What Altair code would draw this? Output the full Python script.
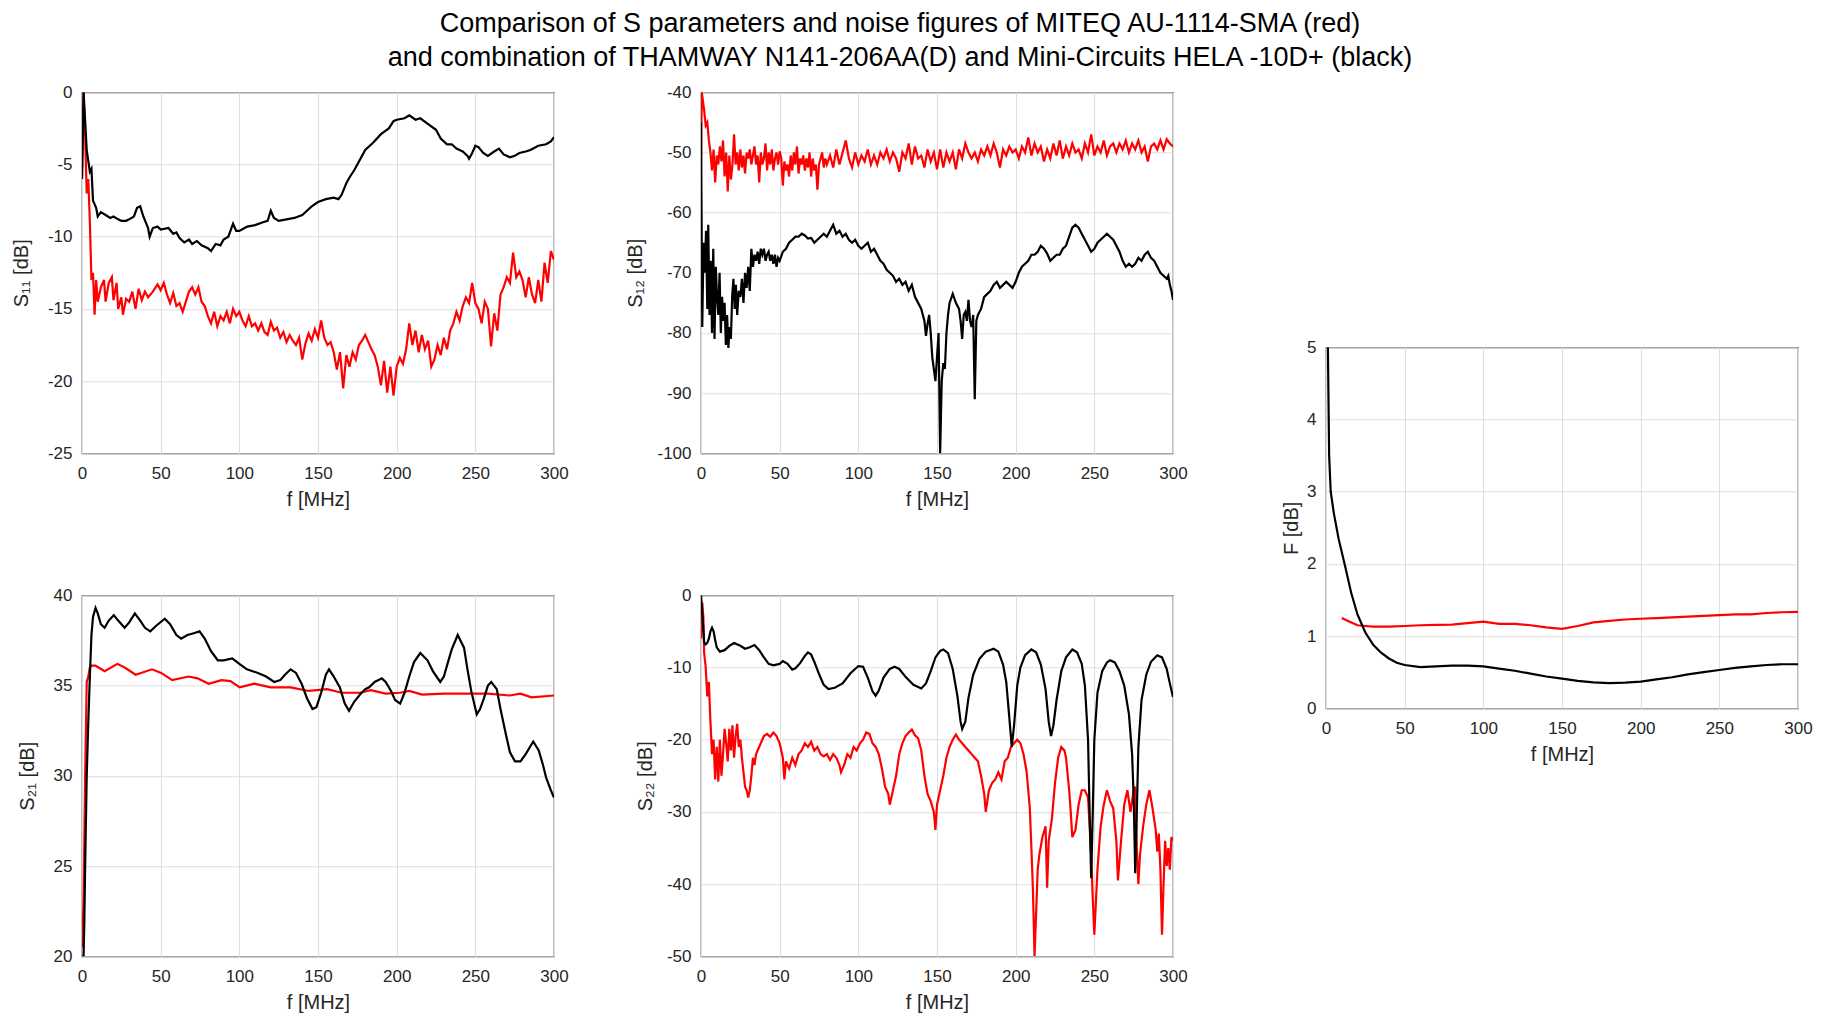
import altair as alt
import pandas as pd

# ---------------- data ----------------
X_TICKS = [0, 50, 100, 150, 200, 250, 300]

# S11 black
S11_BLACK_F = [0, 1, 2, 3, 5, 6, 7, 9, 10, 12, 15, 18, 20, 23, 25, 28, 30, 33, 35, 37, 39, 42, 43, 45, 48, 50,
               55, 58, 60, 62, 65, 68, 70, 73, 76, 80, 82, 85, 88, 90, 93, 96, 98, 100, 105, 110, 115, 118, 120,
               122, 125, 130, 135, 140, 143, 146, 150, 155, 160, 163, 165, 168, 170, 173, 175, 180, 185, 190,
               195, 198, 200, 205, 208, 212, 215, 220, 225, 228, 232, 235, 238, 242, 245, 246, 248, 250, 252,
               255, 258, 262, 265, 268, 272, 275, 278, 282, 285, 290, 295, 298, 300]
S11_BLACK_DB = [-6, 0, -2, -4, -5.5, -5.3, -7.5, -8.0, -8.6, -8.3, -8.5, -8.7, -8.6, -8.8, -8.9, -8.9, -8.8,
                -8.6, -8.0, -7.9, -8.6, -9.4, -10.0, -9.4, -9.3, -9.5, -9.4, -9.8, -9.7, -10.1, -10.4, -10.2,
                -10.5, -10.3, -10.6, -10.8, -11.0, -10.5, -10.6, -10.2, -10.0, -9.1, -9.6, -9.6, -9.3, -9.2,
                -9.0, -8.9, -8.2, -8.7, -8.9, -8.8, -8.7, -8.5, -8.2, -7.9, -7.6, -7.4, -7.3, -7.4, -7.1, -6.3,
                -5.9, -5.4, -5.0, -4.0, -3.5, -2.9, -2.5, -2.0, -1.9, -1.8, -1.6, -1.9, -1.8, -2.2, -2.6, -3.2,
                -3.6, -3.6, -3.9, -4.1, -4.4, -4.6, -4.2, -3.7, -3.8, -4.2, -4.4, -4.1, -3.9, -4.3, -4.5, -4.4,
                -4.2, -4.1, -4.0, -3.7, -3.6, -3.4, -3.1]

# S11 red
S11_RED_F = [0, 1, 2, 3, 4, 5, 6, 7, 8, 9, 10, 12, 14, 15, 17, 19, 20, 22, 23, 25, 26, 28, 30, 32, 34, 36, 38,
             40, 42, 45, 48, 50, 52, 54, 56, 58, 60, 62, 64, 66, 68, 70, 72, 74, 76, 78, 80, 82, 84, 86, 88, 90,
             92, 94, 96, 98, 100, 102, 104, 106, 108, 110, 112, 114, 116, 118, 120, 122, 124, 126, 128, 130,
             132, 134, 136, 138, 140, 142, 144, 146, 148, 150, 152, 154, 156, 158, 160, 162, 164, 166, 168,
             170, 172, 174, 176, 178, 180, 182, 184, 186, 188, 190, 192, 194, 196, 198, 200, 202, 204, 206,
             208, 210, 212, 214, 216, 218, 220, 222, 224, 226, 228, 230, 232, 234, 236, 238, 240, 242, 244,
             246, 248, 250, 252, 254, 256, 258, 260, 262, 264, 266, 268, 270, 272, 274, 276, 278, 280, 282,
             284, 286, 288, 290, 292, 294, 296, 298, 300]
S11_RED_DB = [-6, 0, -3, -7, -6, -9, -13, -12.5, -15.4, -13.0, -14.5, -13.5, -13.0, -14.5, -13.2, -12.8, -14.4,
              -13.2, -15.0, -14.2, -15.4, -14.3, -14.5, -13.8, -15.0, -13.6, -14.4, -13.8, -14.2, -13.8, -13.3,
              -13.7, -13.2, -14.0, -14.6, -13.9, -14.8, -14.6, -15.2, -14.5, -13.8, -13.5, -14.0, -13.5, -14.5,
              -14.8, -15.5, -16.0, -15.2, -16.2, -15.5, -15.8, -15.2, -16.0, -15.0, -15.5, -15.2, -15.8, -16.2,
              -15.5, -16.2, -16.0, -16.5, -16.0, -16.6, -16.8, -15.9, -16.5, -16.3, -17.0, -16.6, -17.3, -16.8,
              -17.2, -17.5, -17.0, -18.5, -17.4, -16.7, -17.2, -16.4, -17.0, -15.8, -17.0, -17.5, -17.3, -18.0,
              -19.2, -18.0, -20.5, -18.2, -19.0, -18.0, -18.5, -17.5, -17.2, -16.8, -17.3, -17.8, -18.2, -19.0,
              -20.3, -18.6, -20.8, -19.0, -21.0, -19.0, -18.4, -18.8, -17.8, -16.0, -17.5, -16.5, -18.0, -16.8,
              -17.8, -17.2, -19.0, -18.5, -17.5, -18.2, -17.0, -17.8, -16.5, -16.0, -15.2, -15.8, -14.8, -14.2,
              -14.6, -13.2, -14.6, -15.0, -16.0, -14.5, -15.0, -17.6, -15.3, -16.5, -14.0, -13.5, -12.8, -13.2,
              -11.1, -12.8, -12.4, -13.0, -14.2, -12.8, -14.0, -14.6, -13.0, -14.5, -11.8, -13.2, -11.0, -11.6]

# S12 red
S12_RED_F = [0, 0.5, 1, 2, 3, 4, 5, 6, 7, 8, 9, 10, 11, 12, 13, 14, 15, 16, 17, 18, 19, 20, 21, 22, 23, 24, 25,
             26, 27, 28, 29, 30, 31, 32, 33, 34, 35, 36, 37, 38, 39, 40, 41, 42, 43, 44, 45, 46, 47, 48, 49, 50,
             51, 52, 53, 54, 55, 56, 57, 58, 59, 60, 61, 62, 63, 64, 65, 66, 67, 68, 69, 70, 71, 72, 73, 74, 75,
             76, 77, 78, 79, 80, 82, 84, 86, 88, 90, 92, 94, 96, 98, 100, 102, 104, 106, 108, 110, 112, 114,
             116, 118, 120, 122, 124, 126, 128, 130, 132, 134, 136, 138, 140, 142, 144, 146, 148, 150, 152,
             154, 156, 158, 160, 162, 164, 166, 168, 170, 172, 174, 176, 178, 180, 182, 184, 186, 188, 190,
             192, 194, 196, 198, 200, 202, 204, 206, 208, 210, 212, 214, 216, 218, 220, 222, 224, 226, 228,
             230, 232, 234, 236, 238, 240, 242, 244, 246, 248, 250, 252, 254, 256, 258, 260, 262, 264, 266,
             268, 270, 272, 274, 276, 278, 280, 282, 284, 286, 288, 290, 292, 294, 296, 298, 300]
S12_RED_DB = [-52, -40, -41, -43, -45.5, -45, -48, -50, -53, -49.5, -55, -50.5, -52, -49, -51.5, -48, -54, -50,
              -56.5, -50.5, -54.5, -52, -47, -52, -50, -53, -49.5, -52.5, -50.5, -53.5, -50, -51, -49.5, -52,
              -50.5, -49, -52, -50.5, -55, -50, -52, -51, -48.5, -53, -50, -52, -49.5, -53, -51, -50, -52, -49.8,
              -51, -55.5, -51.5, -53, -52, -54, -50.5, -53, -50, -52, -49, -53.5, -51, -52, -50.5, -53, -51,
              -52.5, -50, -54, -51, -53, -52, -56.2, -52, -51, -50, -52.5, -51, -52, -50.5, -52.5, -49.5, -52,
              -50, -48, -51, -52.5, -50, -52, -50.5, -51.5, -49.5, -52, -50.5, -52, -50, -51, -49.5, -51.5, -50,
              -51, -53.2, -50, -51, -48.5, -52, -49, -51, -50.5, -52.5, -49.5, -51.5, -50, -52.8, -49.5, -52.5,
              -50, -51.5, -50, -52.8, -49.5, -51, -48.5, -50, -51, -50, -51.5, -49.5, -50.5, -49, -50.5, -48.5,
              -50, -52.5, -49.5, -50.5, -49, -50, -49.5, -51, -49, -50, -47.5, -50.5, -48.5, -50, -49, -51.5,
              -49.5, -51, -48.5, -50.5, -48, -51, -49, -50.5, -48.5, -50, -49.5, -51, -48.5, -50, -47.0, -50.5,
              -49, -50, -48, -50.5, -49, -48.5, -50, -48.5, -49.5, -48, -50, -48.5, -49.5, -48, -50, -49, -51.5,
              -49, -48.5, -49.5, -48, -49.5, -47.8, -48.5, -49]

# S12 black
S12_BLACK_F = [0, 0.8, 1.6, 2.4, 3.2, 4.0, 4.6, 5.4, 6.2, 7, 7.8, 8.6, 9.4, 10.2, 11, 11.8, 12.6, 13.4, 14.2, 15,
               15.8, 16.6, 17.4, 18.2, 19, 19.8, 20.6, 21.4, 22.2, 23, 24, 25, 26, 27, 28, 29, 30, 31, 32, 33,
               34, 35, 36, 37, 38, 39, 40, 41, 42, 43, 44, 45, 46, 47, 48, 49, 50, 52, 54, 56, 58, 60, 62, 64,
               66, 68, 70, 72, 74, 76, 78, 80, 82, 84, 86, 88, 90, 92, 94, 96, 98, 100, 102, 104, 106, 108, 110,
               112, 114, 116, 118, 120, 122, 124, 126, 128, 130, 132, 134, 136, 138, 140, 142, 143, 144, 145,
               146, 147, 148, 149, 150, 151, 152, 153, 154, 155, 156, 157, 158, 160, 162, 164, 165, 166, 167,
               168, 169, 170, 171, 172, 173, 174, 175, 176, 178, 180, 182, 184, 186, 188, 190, 192, 194, 196,
               198, 200, 202, 204, 206, 208, 210, 212, 214, 216, 218, 220, 222, 224, 226, 228, 230, 232, 234,
               236, 238, 240, 242, 244, 246, 248, 250, 252, 254, 256, 258, 260, 262, 264, 266, 268, 270, 272,
               274, 276, 278, 280, 282, 284, 286, 288, 290, 292, 294, 296, 297, 298, 299, 300]
S12_BLACK_DB = [-45, -79, -65, -70, -63, -76, -62, -77, -68, -80, -66, -81, -69, -74, -77, -70, -80, -74, -78,
                -75, -82, -77, -82.5, -79, -81, -74, -71, -76, -72, -77, -73, -74, -71, -75, -70, -72.5, -69,
                -73, -66, -69, -67, -68, -66.5, -68.5, -66, -67, -66, -68, -67, -66.5, -68, -67, -68.5, -67,
                -69, -67.5, -68, -66.5, -66, -65, -64.5, -64, -64, -63.5, -63.8, -64.3, -64.2, -65, -64.5,
                -64, -63.5, -64, -63, -62, -63.5, -63, -64, -63.5, -64.5, -65, -64.5, -65.5, -66, -65.5, -65,
                -66.5, -66, -67, -68, -68.5, -69.5, -70, -70.5, -71.5, -71, -72, -71.5, -73, -72, -74, -75,
                -76, -78, -80.5, -78.5, -77, -80, -84, -86, -88, -84, -80, -100, -88, -85, -86, -80, -77, -75,
                -73.5, -75, -76, -78, -81, -77, -76.5, -78, -74.5, -78, -79, -77, -91, -78, -77, -76, -74,
                -73.5, -73, -72, -71.5, -72.5, -72, -71.5, -72, -72.5, -71.5, -70, -69, -68.5, -68, -67, -67,
                -66.5, -65.5, -66, -66.8, -68, -67.5, -67, -67, -66, -65.5, -64, -62.5, -62, -62.5, -63.5,
                -64.5, -65.5, -66.5, -66, -65, -64.5, -64, -63.5, -64, -64.5, -65.5, -66.5, -68, -69, -68.5,
                -69, -68.5, -67.5, -68, -67, -66.5, -67.5, -68, -69, -70, -70.5, -71, -70.5, -72, -73, -74.5]

# S21 black
S21_BLACK_F = [0, 1, 1.5, 2, 3, 4, 5, 6, 7, 8.6, 10, 12, 14.4, 17, 20.2, 23, 27.1, 30, 33.6, 37, 40, 43.4, 47,
               52.6, 56, 60, 63, 67, 71, 74.7, 78, 82, 86.3, 90, 95.5, 100, 104.8, 111.8, 117, 122.2, 126, 129,
               132.6, 136, 139.6, 143, 146.5, 149, 152, 155, 157, 160, 163.9, 167, 169.7, 173, 176.7, 180,
               182.5, 186, 190.6, 193, 196.4, 199, 202.2, 205, 208, 211, 215, 219.6, 223, 227.7, 230, 232.3,
               235, 238.8, 242.8, 245, 247.4, 250.9, 253, 255.5, 258, 260.1, 263.6, 266, 269.4, 272, 275.2,
               278.7, 282, 286.8, 290.3, 293, 295, 298, 300]
S21_BLACK_DB = [20, 20, 22, 25, 30, 33, 35.5, 37.8, 38.8, 39.3, 39.0, 38.4, 38.2, 38.6, 38.9, 38.6, 38.2, 38.5,
                39.0, 38.6, 38.2, 38.0, 38.3, 38.7, 38.4, 37.8, 37.6, 37.8, 37.9, 38.0, 37.6, 36.9, 36.4, 36.4,
                36.5, 36.2, 35.9, 35.7, 35.5, 35.2, 35.3, 35.6, 35.9, 35.7, 35.1, 34.3, 33.7, 33.8, 34.6, 35.6,
                35.9, 35.5, 34.9, 34.0, 33.6, 34.1, 34.5, 34.8, 34.9, 35.2, 35.4, 35.2, 34.7, 34.2, 34.0, 34.6,
                35.5, 36.3, 36.8, 36.4, 35.8, 35.2, 35.5, 36.2, 37.0, 37.8, 37.1, 35.9, 34.7, 33.4, 33.7, 34.3,
                35.0, 35.2, 34.8, 33.7, 32.3, 31.3, 30.8, 30.8, 31.2, 31.9, 31.4, 30.6, 29.9, 29.2, 28.8]

# S21 red
S21_RED_F = [0, 1, 2, 3, 4, 5, 6, 8.6, 14.4, 22.5, 27.1, 34.1, 44.5, 50.3, 57.3, 67.7, 73.5, 80.5, 88.6, 94.4,
             100.2, 109.5, 119.9, 132.6, 144.2, 155.8, 165, 176.7, 183.6, 192.9, 202.2, 208, 216.2, 230,
             246.3, 257.9, 271.8, 278.7, 285.7, 300]
S21_RED_DB = [20.5, 23, 30, 35.2, 35.5, 36.0, 36.1, 36.1, 35.8, 36.2, 36.0, 35.6, 35.9, 35.7, 35.3, 35.5, 35.4,
              35.1, 35.3, 35.25, 34.9, 35.1, 34.9, 34.9, 34.7, 34.8, 34.6, 34.6, 34.75, 34.55, 34.6, 34.7,
              34.5, 34.55, 34.55, 34.55, 34.45, 34.55, 34.35, 34.45]

# S22 black
S22_BLACK_F = [0, 1, 2, 3, 4, 5, 6, 7, 8, 9, 10, 12, 15, 18, 21, 25, 28, 31, 34, 37, 40, 43, 46, 50, 52, 55, 58,
               60, 63, 66, 68, 70, 72, 75, 78, 81, 85, 90, 95, 100, 103, 106, 109, 111, 113, 116, 120, 123, 126,
               130, 135, 140, 143, 146, 149, 152, 154, 157, 160, 163, 165, 166, 168, 170, 173, 177, 181, 186,
               189, 192, 194, 196, 197.5, 199, 201, 203, 206, 210, 213, 216, 219, 221, 222.5, 224, 226, 229,
               232, 236, 239, 242, 244, 246, 247, 248, 249, 250, 252, 255, 258, 260, 263, 266, 269, 272, 274,
               275, 276, 277, 278, 280, 283, 286, 290, 293, 296, 298, 300]
S22_BLACK_DB = [0, -3, -6.5, -6.8, -6.6, -6.0, -5.0, -4.5, -5.0, -6.2, -7.2, -7.8, -7.6, -7.0, -6.6, -7.0, -7.4,
                -7.2, -6.9, -7.6, -8.6, -9.5, -9.7, -9.5, -9.1, -9.5, -10.3, -10.1, -9.4, -8.4, -7.9, -8.2,
                -9.2, -10.9, -12.4, -13.0, -12.8, -12.2, -10.8, -9.8, -9.9, -11.4, -13.3, -13.9, -13.2, -11.4,
                -10.2, -9.9, -10.2, -11.3, -12.4, -12.9, -12.2, -10.5, -8.6, -7.7, -7.5, -8.0, -10.2, -14.0,
                -17.5, -18.5, -17.5, -14.2, -11.0, -8.8, -7.8, -7.4, -7.8, -9.6, -12.0, -17.0, -21.0, -18.0,
                -12.5, -10.0, -8.3, -7.5, -7.9, -9.6, -13.0, -17.5, -19.5, -18.0, -14.5, -10.5, -8.6, -7.5,
                -7.9, -9.5, -12.5, -20.0, -30.0, -39.2, -30.0, -20.0, -13.5, -10.5, -9.3, -9.0, -9.3, -10.5,
                -12.5, -16.5, -22, -28, -38.5, -30, -21, -14.5, -11.0, -9.2, -8.3, -8.6, -10.2, -12.2, -14.1]

# S22 red
S22_RED_F = [0, 0.8, 1.5, 2, 3, 4, 5, 6, 7, 8, 9, 10, 11, 12, 13, 14, 15, 16, 17, 18, 19, 20, 21, 22, 23, 24, 25,
             26, 27, 28, 29, 30, 31, 32, 33, 34, 35, 36, 38, 40, 42, 44, 46, 48, 50, 52, 53, 54, 56, 58, 60, 62,
             64, 66, 68, 70, 72, 74, 76, 78, 80, 82, 84, 86, 88, 89, 91, 93, 95, 97, 99, 101, 103, 105, 107,
             109, 111, 113, 115, 117, 119, 120, 122, 124, 126, 128, 130, 132, 134, 136, 138, 140, 142, 144,
             146, 148, 149, 150, 152, 154, 156, 158, 160, 162, 164, 166, 168, 170, 172, 174, 176, 178, 180,
             181, 183, 185, 187, 189, 191, 193, 195, 197, 199, 201, 203, 205, 207, 209, 210, 211, 212, 213,
             214, 215, 217, 219, 220, 221, 223, 225, 227, 229, 231, 232, 234, 235, 236, 238, 240, 242, 244,
             246, 248, 249, 250, 252, 254, 256, 258, 260, 262, 264, 265, 267, 269, 271, 273, 275, 276, 277,
             278, 279, 281, 283, 285, 287, 289, 290, 291, 292, 293, 294, 295, 296, 297, 298, 299, 300]
S22_RED_DB = [-6, -1, -3, -8, -10, -14, -12, -17.5, -22, -20, -25.5, -21, -25.8, -20, -25, -22, -18.5, -20.5,
              -23, -18.5, -21.5, -18, -22.5, -19.5, -17.8, -21, -20, -22.5, -24.5, -26.5, -27, -28, -27, -25,
              -22.5, -23.5, -22, -21.5, -20.5, -19.5, -19.2, -19.6, -19.0, -19.5, -20.5, -22.5, -25.5, -23,
              -24, -22.5, -23.5, -22, -21.5, -20.5, -21, -20.3, -21.5, -21, -22, -22.3, -22, -22.8, -22, -22.5,
              -23.5, -24.5, -23.5, -22, -22.5, -21, -21.5, -20.5, -20, -19, -19.2, -20.5, -21, -22, -24, -26.5,
              -27.5, -29, -27, -25, -22, -20.5, -19.5, -19.0, -18.6, -19.4, -19.8, -21.5, -25, -27.5, -28.5,
              -30, -32.5, -29, -27, -25, -22.5, -21, -20, -19.3, -20, -20.5, -21, -21.5, -22, -22.5, -23, -25,
              -27.5, -30, -27, -26, -25.5, -24.5, -25.5, -23, -22.5, -21, -20.5, -20, -20.5, -22, -24.5, -29.5,
              -35, -41, -50, -44, -38, -36, -33.5, -32, -40.5, -34, -31, -26, -22.5, -21, -21.5, -22.5, -27,
              -30, -33.5, -32.5, -29, -27, -27, -28, -36, -42, -47, -38, -32, -29, -27, -28.5, -29.5, -34,
              -39.5, -34, -29, -27, -30, -27, -26.5, -35, -40, -36, -32, -29, -27, -29.5, -32.5, -35.5, -33,
              -38, -47, -40, -34, -37.5, -35, -38, -33.5, -34]

# Noise figure
F_BLACK_F = [1.2, 2, 3, 5, 8, 12, 16, 20, 25, 30, 35, 40, 45, 50, 60, 70, 80, 90, 100, 110, 120, 130, 140, 150,
             160, 170, 180, 190, 200, 210, 220, 230, 240, 250, 260, 270, 280, 290, 300]
F_BLACK_DB = [5.0, 3.5, 3.0, 2.7, 2.35, 1.98, 1.6, 1.3, 1.05, 0.88, 0.77, 0.69, 0.63, 0.6, 0.57, 0.58, 0.59,
              0.59, 0.58, 0.55, 0.52, 0.48, 0.44, 0.41, 0.38, 0.36, 0.35, 0.355, 0.37, 0.40, 0.43, 0.47, 0.50,
              0.53, 0.56, 0.58, 0.60, 0.61, 0.61]
F_RED_F = [10, 15, 20, 25, 30, 40, 50, 60, 70, 80, 90, 100, 110, 120, 130, 140, 150, 160, 170, 180, 190, 200,
           210, 220, 230, 240, 250, 260, 270, 280, 290, 300]
F_RED_DB = [1.25, 1.2, 1.15, 1.14, 1.13, 1.13, 1.14, 1.15, 1.155, 1.16, 1.18, 1.20, 1.17, 1.17, 1.15, 1.12,
            1.10, 1.14, 1.19, 1.21, 1.23, 1.24, 1.25, 1.26, 1.27, 1.28, 1.29, 1.30, 1.30, 1.32, 1.33, 1.335]

TITLE_LINES = ["Comparison of S parameters and noise figures of MITEQ AU-1114-SMA (red)",
               "and combination of THAMWAY N141-206AA(D) and Mini-Circuits HELA -10D+ (black)"]
TITLE_ROW = [0, 1]

# ---------------- chart ----------------
W, H = 472, 361
FONT = "Liberation Sans"


def panel(red, black, ytitle, ydom, yvals, ytp):
    layers = []
    for (f, v), color in ((red, "#ff0000"), (black, "#000000")):
        df = pd.DataFrame({"f": f, "v": v})
        layers.append(
            alt.Chart(df).mark_line(color=color, strokeWidth=2.2, clip=True).encode(
                x=alt.X("f:Q", scale=alt.Scale(domain=[0, 300], nice=False, zero=False),
                        axis=alt.Axis(values=X_TICKS, title="f [MHz]", labelExpr="'' + datum.value",
                                      labelFlush=False)),
                y=alt.Y("v:Q", scale=alt.Scale(domain=ydom, nice=False, zero=False),
                        axis=alt.Axis(values=yvals, title=ytitle, labelExpr="'' + datum.value",
                                      labelFlush=False, titlePadding=ytp)),
                order="f:Q",
            )
        )
    return alt.layer(*layers).properties(width=W, height=H)


def spacer(w, h):
    return alt.Chart(pd.DataFrame({"a": [0]})).mark_point(opacity=0, size=1).encode(
        x=alt.value(0), y=alt.value(0)
    ).properties(width=w, height=h, view=alt.ViewBackground(stroke="transparent"))


s11 = panel((S11_RED_F, S11_RED_DB), (S11_BLACK_F, S11_BLACK_DB), "S\u2081\u2081 [dB]", [-25, 0],
            [-25, -20, -15, -10, -5, 0], 16)
s12 = panel((S12_RED_F, S12_RED_DB), (S12_BLACK_F, S12_BLACK_DB), "S\u2081\u2082 [dB]", [-100, -40],
            [-100, -90, -80, -70, -60, -50, -40], 11)
s21 = panel((S21_RED_F, S21_RED_DB), (S21_BLACK_F, S21_BLACK_DB), "S\u2082\u2081 [dB]", [20, 40],
            [20, 25, 30, 35, 40], 16)
s22 = panel((S22_RED_F, S22_RED_DB), (S22_BLACK_F, S22_BLACK_DB), "S\u2082\u2082 [dB]", [-50, 0],
            [-50, -40, -30, -20, -10, 0], 11)
fpanel = panel((F_RED_F, F_RED_DB), (F_BLACK_F, F_BLACK_DB), "F [dB]", [0, 5], [0, 1, 2, 3, 4, 5], 5.5)

col1 = alt.vconcat(s11, s21, spacing=142, bounds="flush")
col2 = alt.vconcat(s12, s22, spacing=142, bounds="flush")
col3 = alt.vconcat(spacer(W, 200), fpanel, spacing=55, bounds="flush")
grid = alt.hconcat(col1, spacer(53, 10), col2, spacer(88.8, 10), col3, spacing=0)

title_chart = alt.Chart(pd.DataFrame({"t": TITLE_LINES, "i": TITLE_ROW})).mark_text(
    fontSize=27, font=FONT, align="center", baseline="alphabetic", color="#000000"
).encode(
    x=alt.value(818),
    y=alt.Y("i:Q", scale=alt.Scale(domain=[0, 1], range=[20.5, 55]), axis=None),
    text="t:N",
).properties(width=1600, height=60, view=alt.ViewBackground(stroke="transparent"))

chart = alt.vconcat(title_chart, grid, spacing=10.3).properties(
    padding={"left": 2, "top": 0, "right": 0, "bottom": 0},
).configure_view(
    stroke="#262626", strokeWidth=1.2
).configure_axis(
    labelFont=FONT, labelFontSize=17, labelColor="#262626",
    titleFont=FONT, titleFontSize=20, titleFontWeight="normal", titleColor="#262626",
    grid=True, gridColor="#dedede", gridWidth=1, domain=False, ticks=False,
).configure_axisX(
    labelPadding=12, titlePadding=8,
).configure_axisY(
    labelPadding=10,
)

chart.save("out.html", embed_options={"renderer": "svg", "actions": False})
